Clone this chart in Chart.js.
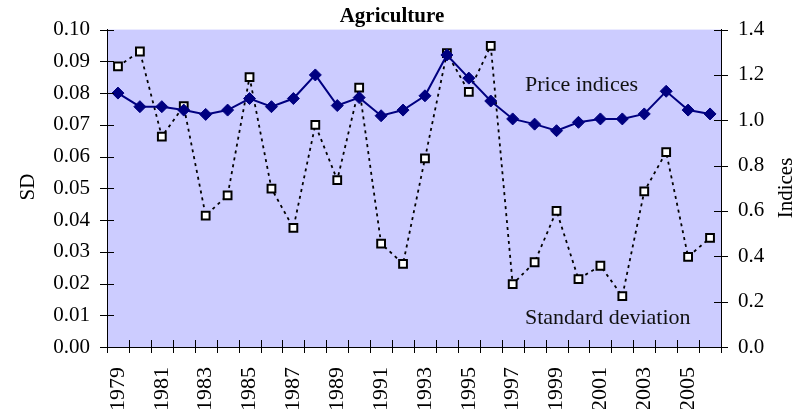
<!DOCTYPE html>
<html>
<head>
<meta charset="utf-8">
<title>Agriculture</title>
<script src="https://cdn.jsdelivr.net/npm/chart.js@4.4.0/dist/chart.umd.min.js"></script>
<style>
    html, body { margin: 0; padding: 0; background: #fff; }
    #wrap { width: 804px; height: 409px; }
</style>
</head>
<body>
<div id="wrap"><canvas id="agriChart" width="804" height="409"></canvas></div>
<script>
// Years on the x axis
const years = [
    '1979', '1980', '1981', '1982', '1983', '1984', '1985', '1986', '1987', '1988',
    '1989', '1990', '1991', '1992', '1993', '1994', '1995', '1996', '1997', '1998',
    '1999', '2000', '2001', '2002', '2003', '2004', '2005', '2006'
];

// Price indices (right axis)
const priceIndices = [
    1.12, 1.06, 1.06, 1.045, 1.026, 1.045, 1.096, 1.06, 1.096, 1.20,
    1.065, 1.10, 1.02, 1.045, 1.108, 1.288, 1.186, 1.085, 1.006, 0.983,
    0.954, 0.991, 1.006, 1.006, 1.028, 1.128, 1.045, 1.028
];

// Standard deviation (left axis)
const stdDev = [
    0.0884, 0.0931, 0.0663, 0.0759, 0.0414, 0.0478, 0.0850, 0.0499, 0.0375, 0.0700,
    0.0526, 0.0817, 0.0326, 0.0262, 0.0594, 0.0926, 0.0804, 0.0949, 0.0198, 0.0267,
    0.0429, 0.0214, 0.0256, 0.0160, 0.0490, 0.0614, 0.0284, 0.0344
];

// Axis ranges: min, max, step
const sdTicks = [0, 0.10, 0.01];
const indexTicks = [0, 1.4, 0.2];

const SERIF = "'Liberation Serif', 'Times New Roman', serif";

// Plot background, crossing tick marks and free text
const decorPlugin = {
    id: 'decor',
    beforeDraw(chart) {
        const { ctx, chartArea: a } = chart;
        ctx.save();
        ctx.fillStyle = '#ffffff';
        ctx.fillRect(0, 0, chart.width, chart.height);
        ctx.fillStyle = '#ccccff';
        ctx.fillRect(a.left, a.top, a.right - a.left, a.bottom - a.top);
        ctx.restore();
    },
    afterDraw(chart) {
        const { ctx, chartArea: a, scales } = chart;
        ctx.save();
        ctx.strokeStyle = '#000';
        ctx.lineWidth = 1;
        ctx.beginPath();

        // left axis ticks
        for (let v = sdTicks[0]; v <= sdTicks[1] + 1e-9; v += sdTicks[2]) {
            const y = Math.round(scales.y.getPixelForValue(v)) + 0.5;
            ctx.moveTo(a.left - 7, y);
            ctx.lineTo(a.left + 7, y);
        }
        // right axis ticks
        for (let v = indexTicks[0]; v <= indexTicks[1] + 1e-9; v += indexTicks[2]) {
            const y = Math.round(scales.y1.getPixelForValue(v)) + 0.5;
            ctx.moveTo(a.right - 7, y);
            ctx.lineTo(a.right + 7, y);
        }
        // category boundary ticks on x
        for (let i = 0; i <= years.length; i++) {
            const x = Math.round(scales.x.getPixelForValue(i - 0.5)) + 0.5;
            ctx.moveTo(x, a.bottom - 7);
            ctx.lineTo(x, a.bottom + 6);
        }
        ctx.stroke();

        // chart title
        ctx.fillStyle = '#000';
        ctx.font = 'bold 21px ' + SERIF;
        ctx.textAlign = 'center';
        ctx.textBaseline = 'alphabetic';
        ctx.fillText('Agriculture', 392, 22);

        // axis titles
        ctx.font = '21px ' + SERIF;
        ctx.textBaseline = 'middle';
        ctx.save();
        ctx.translate(28, 187);
        ctx.rotate(-Math.PI / 2);
        ctx.fillText('SD', 0, 0);
        ctx.restore();
        ctx.save();
        ctx.translate(786, 188);
        ctx.rotate(-Math.PI / 2);
        ctx.fillText('Indices', 0, 0);
        ctx.restore();

        // series labels
        ctx.fillStyle = '#111';
        ctx.font = '22px ' + SERIF;
        ctx.textAlign = 'left';
        ctx.textBaseline = 'alphabetic';
        ctx.fillText('Price indices', 525, 91);
        ctx.fillText('Standard deviation', 525, 324);
        ctx.restore();
    }
};

const ctx = document.getElementById('agriChart');
new Chart(ctx, {
    type: 'line',
    data: {
        labels: years,
        datasets: [{
            label: 'Price indices',
            data: priceIndices,
            yAxisID: 'y1',
            borderColor: '#000080',
            borderWidth: 2,
            pointStyle: 'rectRot',
            pointRadius: 6,
            pointBackgroundColor: '#000080',
            pointBorderColor: '#000080',
            pointBorderWidth: 1,
            tension: 0
        }, {
            label: 'Standard deviation',
            data: stdDev,
            yAxisID: 'y',
            borderColor: '#000000',
            borderWidth: 1.8,
            borderDash: [3, 4],
            pointStyle: 'rect',
            pointRadius: 5.5,
            pointBackgroundColor: '#ffffff',
            pointBorderColor: '#000000',
            pointBorderWidth: 2,
            tension: 0
        }]
    },
    options: {
        responsive: false,
        animation: false,
        devicePixelRatio: 1,
        layout: { padding: { top: 27, left: 0, right: 0, bottom: 0 } },
        plugins: {
            legend: { display: false },
            tooltip: { enabled: false },
            title: { display: false }
        },
        scales: {
            x: {
                offset: true,
                grid: { display: false, offset: true },
                border: { display: true, color: '#000', width: 1 },
                ticks: {
                    autoSkip: false,
                    minRotation: 90,
                    maxRotation: 90,
                    padding: 12,
                    color: '#000',
                    font: { family: SERIF, size: 22 },
                    callback: (v, i) => (i % 2 === 0 ? years[i] : '')
                },
                afterFit: (s) => { s.height = 62; }
            },
            y: {
                position: 'left',
                min: sdTicks[0],
                max: sdTicks[1],
                grid: { display: false, drawTicks: false },
                border: { display: true, color: '#000', width: 1 },
                ticks: {
                    stepSize: sdTicks[2],
                    padding: 17,
                    color: '#000',
                    font: { family: SERIF, size: 21 },
                    callback: (v) => Number(v).toFixed(2)
                },
                afterFit: (s) => { s.width = 107; }
            },
            y1: {
                position: 'right',
                min: indexTicks[0],
                max: indexTicks[1],
                grid: { display: false, drawTicks: false },
                border: { display: true, color: '#000', width: 1 },
                ticks: {
                    stepSize: indexTicks[2],
                    padding: 17,
                    color: '#000',
                    font: { family: SERIF, size: 21 },
                    callback: (v) => Number(v).toFixed(1)
                },
                afterFit: (s) => { s.width = 83; }
            }
        }
    },
    plugins: [decorPlugin]
});
</script>
</body>
</html>
